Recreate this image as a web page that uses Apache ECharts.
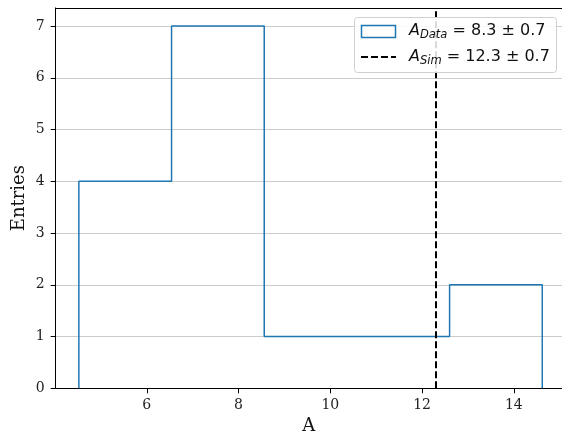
<!DOCTYPE html>
<html>
<head>
<meta charset="utf-8">
<script src="https://cdn.jsdelivr.net/npm/echarts@6/dist/echarts.min.js"></script>
<style>html,body{margin:0;padding:0;background:#fff}#c{width:562px;height:434px}</style>
</head>
<body>
<div id="c"></div>
<script>
// Histogram data
var binEdges = [4.52, 6.54, 8.56, 10.58, 12.60, 14.62];
var counts = [4, 7, 1, 1, 2];
var simValue = 12.3;
var xTicks = [6, 8, 10, 12, 14];
var yTicks = [0, 1, 2, 3, 4, 5, 6, 7];
var legendData = {label: 'Data', value: '8.3 ± 0.7'};
var legendSim = {label: 'Sim', value: '12.3 ± 0.7'};

// step outline of histogram
var histPts = [[binEdges[0], 0]];
for (var i = 0; i < counts.length; i++) {
  histPts.push([binEdges[i], counts[i]]);
  histPts.push([binEdges[i + 1], counts[i]]);
}
histPts.push([binEdges[binEdges.length - 1], 0]);

var chart = echarts.init(document.getElementById('c'), null, {renderer: 'canvas'});
var serif = 'DejaVu Serif';
var sans = 'DejaVu Sans';
var XMIN = 4.015, XMAX = 15.05;
chart.setOption({
  animation: false,
  backgroundColor: '#ffffff',
  grid: {left: 55.7, top: 7.9, bottom: 45.7, right: 0, show: false, outerBoundsMode: 'none', containLabel: false},
  xAxis: [{
    type: 'value', min: XMIN, max: XMAX,
    name: 'A', nameLocation: 'middle', nameGap: 29,
    nameTextStyle: {fontFamily: serif, fontSize: 18, color: '#111'},
    axisLine: {show: true, lineStyle: {color: '#000', width: 1}},
    axisTick: {show: true, inside: false, length: 5, customValues: xTicks, lineStyle: {color: '#000', width: 1}},
    axisLabel: {customValues: xTicks, fontFamily: serif, fontSize: 14, color: '#222', margin: 10},
    splitLine: {show: false}
  }, {
    type: 'value', min: XMIN, max: XMAX, position: 'top',
    axisLine: {show: true, onZero: false, lineStyle: {color: '#000', width: 1}},
    axisTick: {show: false}, axisLabel: {show: false}, splitLine: {show: false}
  }],
  yAxis: {
    type: 'value', min: 0, max: 7.35,
    name: 'Entries', nameLocation: 'middle', nameGap: 27, nameRotate: 90, nameMoveOverlap: false,
    nameTextStyle: {fontFamily: serif, fontSize: 18, color: '#111'},
    axisLine: {show: true, lineStyle: {color: '#000', width: 1}},
    axisTick: {show: true, length: 5, customValues: yTicks, lineStyle: {color: '#000', width: 1}},
    axisLabel: {customValues: yTicks, fontFamily: serif, fontSize: 14, color: '#222', margin: 11},
    splitLine: {show: true, lineStyle: {color: '#cccccc', width: 1}}
  },
  series: [
    {
      type: 'line', data: histPts, showSymbol: false, symbol: 'none',
      lineStyle: {color: '#1f77b4', width: 1.5}, z: 3,
      markLine: {
        silent: true, symbol: 'none', label: {show: false},
        lineStyle: {color: '#000', type: [7, 3], width: 2},
        data: [{xAxis: simValue}]
      }
    }
  ],
  graphic: [
    {type: 'rect', shape: {x: 354.5, y: 17.5, width: 202, height: 55, r: 3},
     style: {fill: 'rgba(255,255,255,0.85)', stroke: '#d0d0d0', lineWidth: 1}, z: 10},
    {type: 'rect', shape: {x: 361.5, y: 25.5, width: 34, height: 12},
     style: {fill: 'none', stroke: '#1f77b4', lineWidth: 1.5}, z: 11},
    {type: 'line', shape: {x1: 361, y1: 57, x2: 396, y2: 57},
     style: {stroke: '#000', lineWidth: 2, lineDash: [7, 3]}, z: 11},
    {type: 'text', x: 409, y: 31, z: 11,
     style: {
       text: '{a|A}{s|' + legendData.label + '}{n| = ' + legendData.value + '}',
       verticalAlign: 'middle',
       rich: {
         a: {fontFamily: sans, fontStyle: 'italic', fontSize: 16, fill: '#111'},
         s: {fontFamily: sans, fontStyle: 'italic', fontSize: 11.5, fill: '#111', padding: [9, 0, 0, 0]},
         n: {fontFamily: sans, fontSize: 16, fill: '#111'}
       }
     }},
    {type: 'text', x: 409, y: 57, z: 11,
     style: {
       text: '{a|A}{s|' + legendSim.label + '}{n| = ' + legendSim.value + '}',
       verticalAlign: 'middle',
       rich: {
         a: {fontFamily: sans, fontStyle: 'italic', fontSize: 16, fill: '#111'},
         s: {fontFamily: sans, fontStyle: 'italic', fontSize: 11.5, fill: '#111', padding: [9, 0, 0, 0]},
         n: {fontFamily: sans, fontSize: 16, fill: '#111'}
       }
     }}
  ]
});
</script>
</body>
</html>
